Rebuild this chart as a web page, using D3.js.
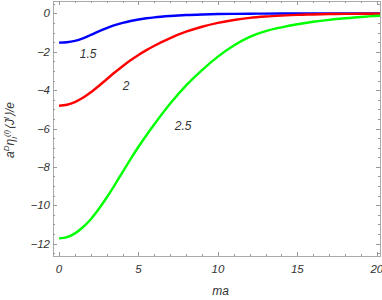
<!DOCTYPE html>
<html>
<head>
<meta charset="utf-8">
<script src="https://cdn.jsdelivr.net/npm/d3@7"></script>
<style>
  body { margin: 0; background: #fff; }
  text { font-family: "Liberation Sans", Arial, sans-serif; font-style: italic; fill: #333; }
</style>
</head>
<body>
<div id="chart"></div>
<script>
// data
const xs = [0, 0.5, 1, 1.5, 2, 2.5, 3, 3.5, 4, 4.5, 5, 5.5, 6, 7, 8, 9, 10, 11, 12, 13, 14, 15, 16, 17, 18, 19, 20.2];
const blueVals = [-1.52, -1.5, -1.43, -1.3, -1.12, -0.93, -0.76, -0.61, -0.49, -0.39, -0.31, -0.25, -0.2, -0.13, -0.08, -0.05, -0.03, -0.02, -0.01, -0.005, 0, 0, 0, 0, 0, 0, 0];
const redVals = [-4.81, -4.76, -4.62, -4.4, -4.11, -3.78, -3.43, -3.08, -2.75, -2.44, -2.16, -1.91, -1.68, -1.28, -0.95, -0.69, -0.49, -0.34, -0.23, -0.16, -0.11, -0.07, -0.05, -0.03, -0.02, -0.015, -0.01];
const greenVals = [-11.73, -11.67, -11.47, -11.15, -10.73, -10.2, -9.6, -8.95, -8.27, -7.6, -6.95, -6.35, -5.78, -4.7, -3.75, -2.95, -2.25, -1.67, -1.22, -0.92, -0.72, -0.56, -0.43, -0.33, -0.25, -0.18, -0.12];
const seriesNames = ["1.5", "2", "2.5"];
const xTicks = [0, 5, 10, 15, 20];
const yTicks = [0, -2, -4, -6, -8, -10, -12];

const width = 382;
const height = 300;
const mLeft = 53, mRight = 380, mTop = 1, mBottom = 256;

const svg = d3.select("#chart").append("svg")
  .attr("width", width)
  .attr("height", height);

const x = d3.scaleLinear().domain([-0.38, 20.2]).range([mLeft, mRight]);
const y = d3.scaleLinear().domain([-12.65, 0.652]).range([mBottom, mTop]);

// frame
svg.append("rect")
  .attr("x", mLeft + 0.5).attr("y", mTop + 0.5)
  .attr("width", mRight - mLeft).attr("height", mBottom - mTop)
  .attr("fill", "none").attr("stroke", "#aaa").attr("stroke-width", 1);

// ticks on all four sides, pointing inward
const xMinor = d3.range(0, 21, 1);
const yMinor = d3.range(-12.5, 0.6, 0.5);
const tickColor = "#999";

xMinor.forEach(v => {
  const len = v % 5 === 0 ? 4 : 2;
  const px = Math.round(x(v)) + 0.5;
  svg.append("line").attr("x1", px).attr("x2", px).attr("y1", mBottom).attr("y2", mBottom - len).attr("stroke", tickColor);
  svg.append("line").attr("x1", px).attr("x2", px).attr("y1", mTop).attr("y2", mTop + len).attr("stroke", tickColor);
});
yMinor.forEach(v => {
  const len = v % 2 === 0 ? 4 : 2;
  const py = Math.round(y(v)) + 0.5;
  svg.append("line").attr("x1", mLeft).attr("x2", mLeft + len).attr("y1", py).attr("y2", py).attr("stroke", tickColor);
  svg.append("line").attr("x1", mRight).attr("x2", mRight - len).attr("y1", py).attr("y2", py).attr("stroke", tickColor);
});

// tick labels
svg.selectAll(".xl").data(xTicks).enter().append("text")
  .attr("x", d => x(d)).attr("y", 273)
  .attr("text-anchor", "middle").attr("font-size", 11.5)
  .text(d => d);
svg.selectAll(".yl").data(yTicks).enter().append("text")
  .attr("x", mLeft - 3).attr("y", d => y(d) + 4)
  .attr("text-anchor", "end").attr("font-size", 11.5)
  .text(d => d < 0 ? "\u2212" + Math.abs(d) : d);

// curves
const line = d3.line().x(d => x(d[0])).y(d => y(d[1])).curve(d3.curveMonotoneX);
const allSeries = [
  { vals: blueVals, color: "rgb(0,0,255)" },
  { vals: redVals, color: "rgb(255,0,0)" },
  { vals: greenVals, color: "rgb(0,255,0)" }
];
allSeries.forEach(s => {
  svg.append("path")
    .datum(xs.map((v, i) => [v, s.vals[i]]))
    .attr("fill", "none")
    .attr("stroke", s.color)
    .attr("stroke-width", 2.4)
    .attr("d", line);
});

// curve labels
const labelPos = [[1.83, -2.3], [4.22, -3.97], [7.81, -6.1]];
svg.selectAll(".cl").data(seriesNames).enter().append("text")
  .attr("x", (d, i) => x(labelPos[i][0]))
  .attr("y", (d, i) => y(labelPos[i][1]))
  .attr("text-anchor", "middle").attr("font-size", 12)
  .text(d => d);

// axis labels
svg.append("text").attr("x", (mLeft + mRight) / 2 + 4).attr("y", 295)
  .attr("text-anchor", "middle").attr("font-size", 12).text("ma");

const yl = svg.append("text")
  .attr("transform", "translate(14,130) rotate(-90)")
  .attr("text-anchor", "middle").attr("font-size", 12);
yl.append("tspan").text("a");
yl.append("tspan").attr("dy", -5).attr("font-size", 8).text("D");
yl.append("tspan").attr("dy", 5).text("\u03B7");
yl.append("tspan").attr("dy", 3).attr("font-size", 8).text("l");
yl.append("tspan").attr("dy", -8).attr("font-size", 8).text("(l)");
yl.append("tspan").attr("dy", 5).text("\u27E8J");
yl.append("tspan").attr("dy", -5).attr("font-size", 8).text("l");
yl.append("tspan").attr("dy", 5).text("\u27E9/e");
</script>
</body>
</html>
